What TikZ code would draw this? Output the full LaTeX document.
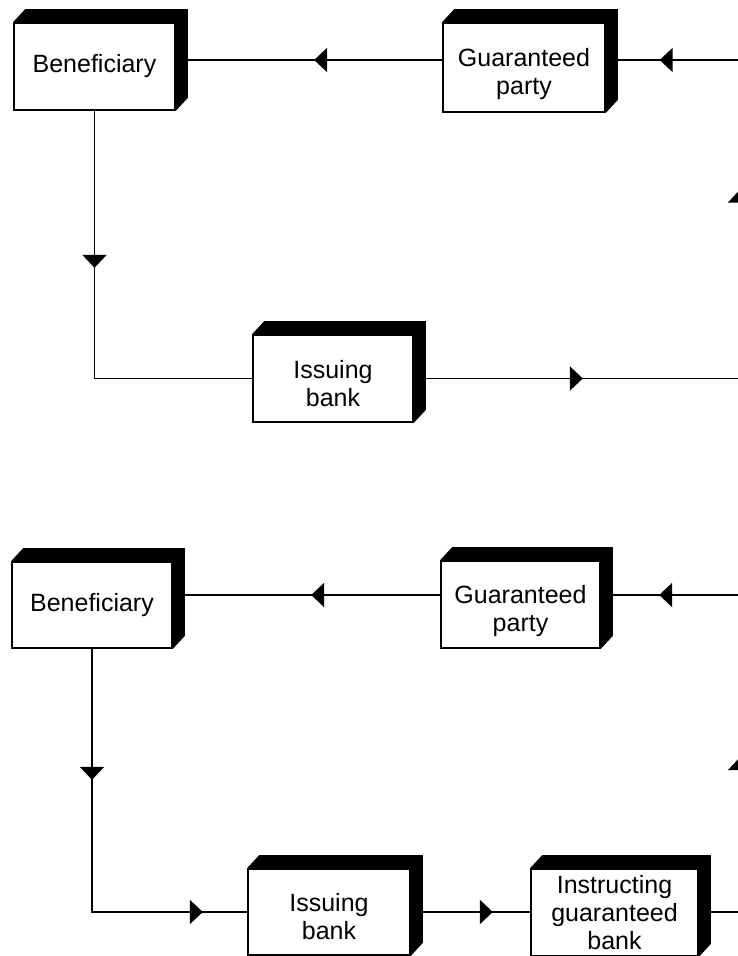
\documentclass[tikz,border=0pt]{standalone}
\usepackage{fontspec}
\setmainfont{Liberation Sans}
\usetikzlibrary{arrows.meta,decorations.markings}

% block with a solid top and right side
\newcommand\slabshade[1]{%
  \fill (#1.north west) -- ++(12,-13) -- ([shift={(12,-13)}]#1.north east)
    -- ([shift={(12,-13)}]#1.south east) -- (#1.south east) -- (#1.north east) -- cycle;}
% taller first line, to set two-line labels a little lower
\newcommand\tallstrut[1]{\rule{0pt}{#1}}

\tikzset{
  x=1pt, y=-1pt,
  slab/.style={rectangle, draw, line width=1.7pt, fill=white, inner sep=0pt,
    align=center, font=\fontsize{25}{28}\selectfont},
  link/.style={line width=1.9pt},
  flowtip/.tip={Triangle[length=13pt,width=24pt]},
  tipat/.style={postaction={decorate,
    decoration={markings, mark=at position #1 with {\arrow{flowtip}}}}},
}

\begin{document}
\begin{tikzpicture}
\useasboundingbox (0,0) rectangle (738,956);
\clip (0,0) rectangle (738,956);

% upper chain
\node[slab, minimum width=161pt, minimum height=87pt] (ben1) at (94.5,66.5) {Beneficiary};
\node[slab, minimum width=162pt, minimum height=89pt] (gp1) at (524,67.5) {\tallstrut{32pt}Guaranteed\\party};
\node[slab, minimum width=160pt, minimum height=87pt] (ib1) at (333,378.5) {\tallstrut{28pt}Issuing\\bank};

% lower chain
\node[slab, minimum width=160pt, minimum height=86pt] (ben2) at (92,605) {Beneficiary};
\node[slab, minimum width=159pt, minimum height=87pt] (gp2) at (520.5,604.5) {\tallstrut{32pt}Guaranteed\\party};
\node[slab, minimum width=162pt, minimum height=86pt] (ib2) at (329,912) {\tallstrut{28pt}Issuing\\bank};
\node[slab, minimum width=167pt, minimum height=87pt] (inst) at (614.5,912.5) {Instructing\\guaranteed\\bank};

\foreach \b in {ben1,gp1,ib1,ben2,gp2,ib2,inst} {\slabshade{\b}}

\coordinate (row1) at (0,60);
\coordinate (row2) at (0,595);
\coordinate (col) at (740,0);

% upper flows
\draw[link, tipat=128pt] (gp1.west |- row1) -- (ben1.east |- row1);
\draw[link, tipat=157pt] (ben1.south) |- (ib1.west);
\draw[link, tipat=169pt, tipat=515pt, tipat=725pt]
  (ib1.east) -| (col |- row1) -- (gp1.east |- row1);

% lower flows
\draw[link, tipat=129pt] (gp2.west |- row2) -- (ben2.east |- row2);
\draw[link, tipat=131pt, tipat=374pt] (ben2.south) |- (ib2.west);
\draw[link, tipat=82pt] (ib2.east) -- (inst.west |- ib2.east);
\draw[link, tipat=196pt, tipat=439pt]
  (inst.east |- ib2.east) -| (col |- row2) -- (gp2.east |- row2);
\end{tikzpicture}
\end{document}
